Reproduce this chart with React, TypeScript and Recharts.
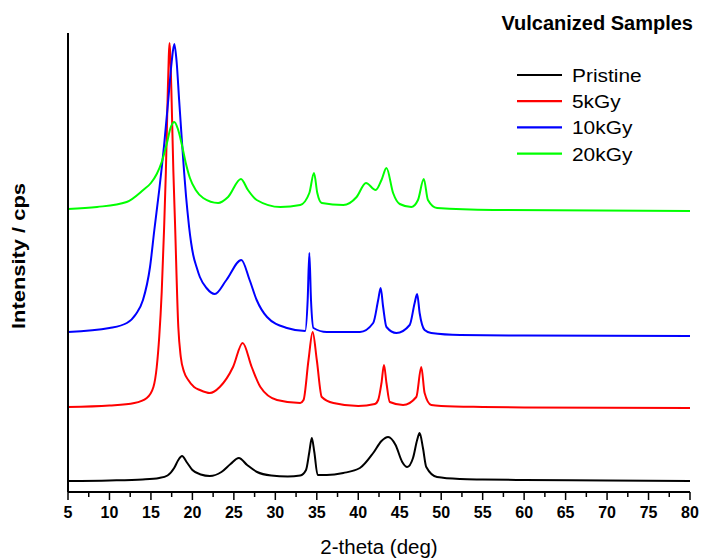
import React from 'react';
import { LineChart, Line, XAxis, YAxis, Legend } from 'recharts';

// [2-theta (deg), intensity (a.u., offset stacked)]
const pristine: [number, number][] = [
  [5, 11], [10, 11.5], [14, 12.5], [16, 14], [17, 16.5], [17.8, 24], [18.3, 32], [18.75, 36],
  [19.3, 30], [20, 22], [21, 17.5], [22.1, 16], [23.5, 20], [24.6, 28], [25.6, 34], [26.6, 27],
  [27.8, 20], [29.5, 16.5], [31.5, 15.5], [33, 16.5], [33.7, 22], [34.1, 40], [34.4, 54],
  [34.7, 40], [35.1, 17], [36.2, 17], [38.2, 19], [40.2, 24], [41.8, 39], [42.8, 51], [43.6, 55],
  [44.5, 47], [45.3, 30], [45.9, 25], [46.6, 34], [47.1, 52], [47.4, 59], [47.8, 44], [48.2, 25],
  [49.5, 15], [52.3, 13], [55, 12.5], [60, 12], [70, 11.5], [80, 11],
];

const kGy5: [number, number][] = [
  [5, 85], [10, 86.5], [13, 89], [14.5, 94], [15.3, 105], [15.7, 125], [16.0, 155], [16.3, 200],
  [16.58, 262], [16.8, 320], [17.0, 390], [17.15, 435], [17.24, 449], [17.35, 435], [17.5, 390],
  [17.7, 322], [17.9, 270], [18.3, 165], [18.6, 135], [19.0, 120], [19.5, 112], [20.2, 105],
  [20.9, 102], [22.1, 99], [23.3, 105], [24.9, 125], [26.06, 149], [27.15, 125], [28.2, 105],
  [30.2, 92], [33, 89], [33.4, 92], [34.0, 132], [34.5, 160], [35.0, 132], [35.6, 95], [37, 89],
  [40, 86], [42.0, 88], [42.4, 92], [42.8, 109], [43.1, 127], [43.4, 109], [43.8, 90], [45.4, 87],
  [47.0, 95], [47.6, 125], [48.0, 99], [48.8, 87], [50, 86], [55, 85], [60, 84.5], [80, 84],
];

const kGy10: [number, number][] = [
  [5, 160], [10, 164], [12.1, 169], [13.2, 178], [14.04, 192], [14.89, 225], [15.41, 262],
  [16.0, 302], [16.6, 348], [17.1, 393], [17.5, 430], [17.82, 448], [18.1, 430], [18.4, 392],
  [18.71, 354], [19.0, 320], [19.23, 296], [19.4, 281], [19.6, 265], [19.85, 249], [20.1, 237],
  [20.5, 225], [20.9, 215], [21.7, 204], [22.7, 198], [24.1, 212], [25.9, 232], [26.9, 212],
  [27.75, 192], [29.0, 175], [31.4, 164], [33.6, 161], [33.9, 192], [34.1, 239], [34.3, 192],
  [34.6, 164], [36.2, 160], [40.2, 160], [41.8, 169], [42.4, 192], [42.7, 204], [43.0, 185],
  [43.4, 165], [44.6, 159], [46.2, 167], [46.8, 189], [47.1, 198], [47.4, 179], [48.0, 162],
  [48.8, 159], [52.3, 157], [60, 156.5], [80, 156],
];

const kGy20: [number, number][] = [
  [5, 283], [8.5, 285], [12.07, 290], [14.07, 302], [15.0, 309], [15.7, 318], [16.3, 330],
  [16.9, 348], [17.4, 365], [17.82, 370], [18.25, 363], [18.71, 348], [19.2, 329], [19.7, 314],
  [20.4, 302], [21.3, 294], [23.1, 289], [24.3, 295], [25.85, 313], [26.7, 302], [27.75, 292],
  [30.6, 285], [33.0, 287], [34.1, 299], [34.66, 319], [35.06, 299], [35.6, 289], [38.2, 287],
  [39.8, 295], [40.93, 309], [42.1, 302], [42.8, 312], [43.4, 324], [44.2, 299], [45.0, 288],
  [46.4, 285], [47.2, 292], [47.9, 313], [48.4, 292], [49.5, 284], [56.3, 282], [80, 281],
];

const seriesNames = ['Pristine', '5kGy', '10kGy', '20kGy'];
const seriesColors = ['#000000', '#ff0000', '#0000ff', '#00ff00'];
const seriesPoints = [pristine, kGy5, kGy10, kGy20];

const majorTicks = [5, 10, 15, 20, 25, 30, 35, 40, 45, 50, 55, 60, 65, 70, 75, 80];
const minorTicks = [7.5, 12.5, 17.5, 22.5, 27.5, 32.5, 37.5, 42.5, 47.5, 52.5, 57.5, 62.5, 67.5, 72.5, 77.5];
const allTicks = [...majorTicks, ...minorTicks].sort((a, b) => a - b);

const FONT = "'Liberation Sans', Arial, sans-serif";

const toData = (pts: [number, number][]) => pts.map(([x, y]) => ({ x, y }));

const XTick = (props: any) => {
  const { x, y, payload } = props;
  const v = payload.value;
  const major = majorTicks.includes(v);
  return (
    <g>
      <line x1={x} x2={x} y1={y} y2={y + (major ? 8 : 5)} stroke="#000" strokeWidth={1.5} />
      {major && (
        <text
          x={x}
          y={y + 25.5}
          textAnchor="middle"
          fontWeight="bold"
          fontSize={16}
          fontFamily={FONT}
          fill="#000"
        >
          {v}
        </text>
      )}
    </g>
  );
};

const XLabel = () => (
  <text x={379} y={554} textAnchor="middle" fontSize={20.5} fontFamily={FONT} fill="#000">
    2-theta (deg)
  </text>
);

const YLabel = () => (
  <text
    transform="translate(25,256) rotate(-90)"
    textAnchor="middle"
    fontSize={18}
    fontWeight="bold"
    fontFamily={FONT}
    fill="#000"
    textLength={146}
    lengthAdjust="spacingAndGlyphs"
  >
    Intensity / cps
  </text>
);

const renderLegend = (props: any) => {
  const payload = [...(props.payload || [])].sort(
    (a: any, b: any) => seriesNames.indexOf(a.value) - seriesNames.indexOf(b.value)
  );
  return (
    <svg width={180} height={110} style={{ display: 'block', overflow: 'visible' }}>
      {payload.map((e: any, i: number) => (
        <g key={e.value} transform={`translate(0, ${13 + i * 26.2})`}>
          <line x1={0} x2={45} y1={0} y2={0} stroke={e.color} strokeWidth={2.2} />
          <text
            transform="translate(55,7) scale(1.13,1)"
            fontSize={18.5}
            fontFamily={FONT}
            fill="#000"
          >
            {e.value}
          </text>
        </g>
      ))}
    </svg>
  );
};

export default function App() {
  return (
    <div style={{ position: 'absolute', left: 0, top: 0, width: 702, height: 558, background: '#fff' }}>
      <div
        style={{
          position: 'absolute',
          right: 9,
          top: 13,
          fontFamily: FONT,
          fontWeight: 'bold',
          fontSize: 20,
          lineHeight: '20px',
          whiteSpace: 'nowrap',
        }}
      >
        Vulcanized Samples
      </div>
      <LineChart width={702} height={558} margin={{ top: 33, right: 12, bottom: 0, left: 0 }}>
        <XAxis
          type="number"
          dataKey="x"
          domain={[5, 80]}
          ticks={allTicks}
          interval={0}
          allowDataOverflow
          height={66}
          tickSize={0}
          tickMargin={0}
          tickLine={false}
          axisLine={{ stroke: '#000', strokeWidth: 2 }}
          tick={<XTick />}
          label={<XLabel />}
        />
        <YAxis
          type="number"
          domain={[0, 459]}
          allowDataOverflow
          width={68}
          tick={false}
          tickLine={false}
          axisLine={{ stroke: '#000', strokeWidth: 2 }}
          label={<YLabel />}
        />
        <Legend
          layout="vertical"
          align="center"
          verticalAlign="middle"
          itemSorter={null as any}
          content={renderLegend}
          wrapperStyle={{ left: 517, top: 62, width: 180, height: 110 }}
        />
        {seriesNames.map((name, i) => (
          <Line
            key={name}
            name={name}
            data={toData(seriesPoints[i])}
            dataKey="y"
            type="monotone"
            stroke={seriesColors[i]}
            strokeWidth={2}
            dot={false}
            activeDot={false}
            isAnimationActive={false}
            legendType="line"
          />
        ))}
      </LineChart>
    </div>
  );
}
